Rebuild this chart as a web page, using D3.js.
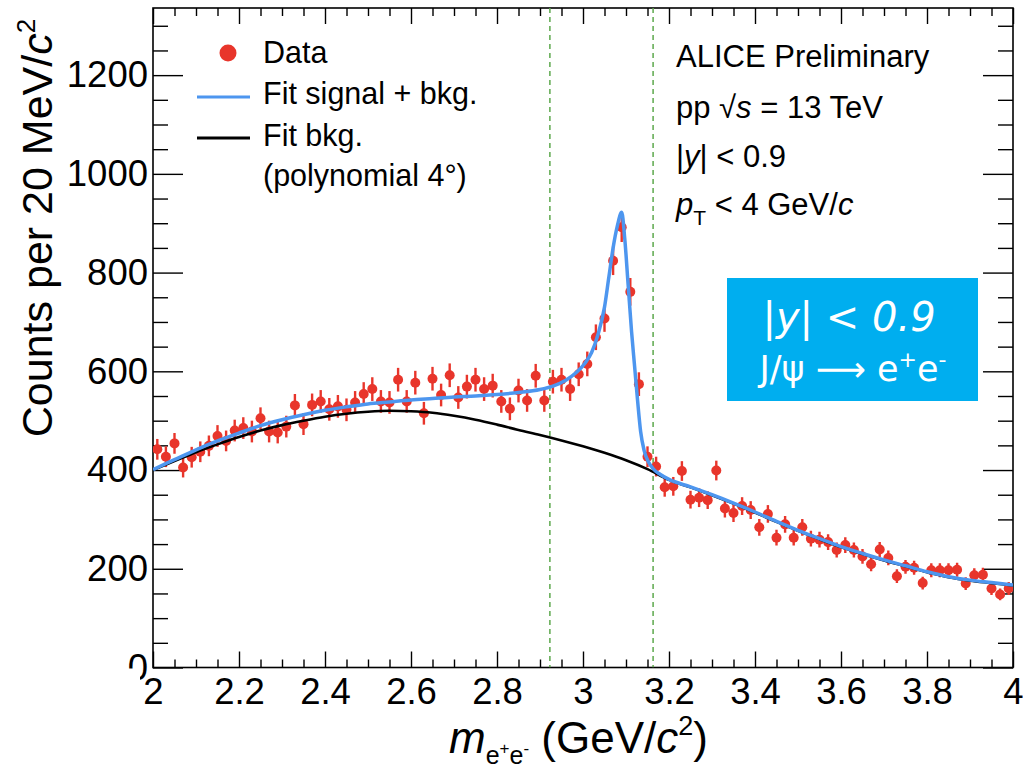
<!DOCTYPE html>
<html>
<head>
<meta charset="utf-8">
<script src="https://cdn.jsdelivr.net/npm/d3@7"></script>
<style>
  body { margin: 0; background: #ffffff; }
  svg { display: block; }
  text { font-family: "Liberation Sans", "DejaVu Sans", Arial, sans-serif; }
</style>
</head>
<body>
<svg id="chart" width="1023" height="768"></svg>
<script>
// Invariant mass bins (20 MeV/c^2 wide), centres in GeV/c^2
const massBins = [
  2.01, 2.03, 2.05, 2.07, 2.09, 2.11, 2.13, 2.15, 2.17, 2.19,
  2.21, 2.23, 2.25, 2.27, 2.29, 2.31, 2.33, 2.35, 2.37, 2.39,
  2.41, 2.43, 2.45, 2.47, 2.49, 2.51, 2.53, 2.55, 2.57, 2.59,
  2.61, 2.63, 2.65, 2.67, 2.69, 2.71, 2.73, 2.75, 2.77, 2.79,
  2.81, 2.83, 2.85, 2.87, 2.89, 2.91, 2.93, 2.95, 2.97, 2.99,
  3.01, 3.03, 3.05, 3.07, 3.09, 3.11, 3.13, 3.15, 3.17, 3.19,
  3.21, 3.23, 3.25, 3.27, 3.29, 3.31, 3.33, 3.35, 3.37, 3.39,
  3.41, 3.43, 3.45, 3.47, 3.49, 3.51, 3.53, 3.55, 3.57, 3.59,
  3.61, 3.63, 3.65, 3.67, 3.69, 3.71, 3.73, 3.75, 3.77, 3.79,
  3.81, 3.83, 3.85, 3.87, 3.89, 3.91, 3.93, 3.95, 3.97, 3.99
];

// Counts per bin
const counts = [
  442, 427, 454, 405, 426, 437, 449, 469, 459, 480,
  485, 478, 505, 478, 476, 488, 531, 493, 532, 539,
  523, 529, 522, 537, 554, 564, 539, 537, 583, 539,
  577, 515, 585, 552, 592, 547, 569, 583, 564, 571,
  539, 524, 561, 541, 591, 541, 579, 583, 564, 594,
  615, 669, 707, 824, 892, 761, 574, 427, 407, 365,
  367, 398, 340, 344, 339, 399, 322, 313, 327, 319,
  284, 311, 263, 290, 263, 284, 261, 259, 254, 238,
  248, 238, 225, 209, 239, 222, 185, 204, 202, 171,
  197, 197, 197, 198, 170, 187, 188, 160, 148, 160
];

// Statistical uncertainty per bin
const countErrors = [
  21, 21, 21, 20, 21, 21, 21, 22, 21, 22,
  22, 22, 22, 22, 22, 22, 23, 22, 23, 23,
  23, 23, 23, 23, 24, 24, 23, 23, 24, 23,
  24, 23, 24, 23, 24, 23, 24, 24, 24, 24,
  23, 23, 24, 23, 24, 23, 24, 24, 24, 24,
  25, 26, 27, 29, 30, 28, 24, 21, 20, 19,
  19, 20, 18, 19, 18, 20, 18, 18, 18, 18,
  17, 18, 16, 17, 16, 17, 16, 16, 16, 15,
  16, 15, 15, 14, 15, 15, 14, 14, 14, 13,
  14, 14, 14, 14, 13, 14, 14, 13, 12, 13
];

// Fit: signal + background, sampled along the mass axis
const fitTotalMass = [
  2.00, 2.05, 2.10, 2.15, 2.20, 2.25, 2.30, 2.35, 2.40, 2.45,
  2.50, 2.55, 2.60, 2.65, 2.70, 2.75, 2.80, 2.85, 2.90, 2.93,
  2.96, 2.985, 3.005, 3.02, 3.035, 3.05, 3.06, 3.07, 3.08, 3.09,
  3.097, 3.105, 3.113, 3.12, 3.127, 3.134, 3.142, 3.152, 3.165, 3.18,
  3.20, 3.25, 3.30, 3.35, 3.40, 3.45, 3.50, 3.55, 3.60, 3.65,
  3.70, 3.75, 3.80, 3.85, 3.90, 3.95, 4.00
];
const fitTotalCounts = [
  401, 421, 441, 459, 475, 490, 502, 512, 521, 528,
  534, 538, 542, 545, 548, 550, 553, 557, 563, 570,
  582, 598, 617, 638, 675, 730, 790, 850, 895, 922,
  870, 775, 680, 610, 540, 478, 440, 417, 401, 391,
  381, 366, 350, 333, 315, 296, 278, 261, 245, 231,
  218, 206, 194, 184, 177, 172, 167
];

// Fit: background only (4th-order polynomial)
const fitBkgMass = [
  2.00, 2.05, 2.10, 2.15, 2.20, 2.25, 2.30, 2.35, 2.40, 2.45,
  2.50, 2.55, 2.60, 2.65, 2.70, 2.75, 2.80, 2.85, 2.90, 2.95,
  3.00, 3.05, 3.10, 3.15, 3.20, 3.25, 3.30, 3.35, 3.40, 3.45,
  3.50, 3.55, 3.60, 3.65, 3.70, 3.75, 3.80, 3.85, 3.90, 3.95, 4.00
];
const fitBkgCounts = [
  400, 418, 436, 452, 467, 480, 491, 500, 508, 514,
  518, 520, 519, 516, 510, 502, 492, 481, 471, 460,
  448, 435, 420, 402, 380, 365, 349, 332, 314, 295,
  277, 260, 244, 230, 217, 205, 193, 183, 176, 171, 166
];

// Signal integration window
const windowEdges = [2.923, 3.163];

// Axis ticks
const xMajorTicks = [2.0, 2.2, 2.4, 2.6, 2.8, 3.0, 3.2, 3.4, 3.6, 3.8, 4.0];
const xTickLabels = ["2", "2.2", "2.4", "2.6", "2.8", "3", "3.2", "3.4", "3.6", "3.8", "4"];
const yMajorTicks = [0, 200, 400, 600, 800, 1000, 1200];
const yTickLabels = ["0", "200", "400", "600", "800", "1000", "1200"];

// ---------------------------------------------------------------
const W = 1023, H = 768;
const frame = { left: 153, right: 1013, top: 8, bottom: 667.5 };
const RED = "#e8352b", BLUE = "#4d96ef", GREEN = "#5ca84c", BOX = "#00aeef";
const TICK_FONT = 36.5;

const svg = d3.select("#chart");
svg.append("rect").attr("width", W).attr("height", H).attr("fill", "#fff");

const x = d3.scaleLinear().domain([2, 4]).range([frame.left, frame.right]);
const y = d3.scaleLinear().domain([0, 1336]).range([frame.bottom, frame.top]);

const xMinor = d3.range(2, 4.0001, 0.05).filter(v => Math.abs(v * 5 - Math.round(v * 5)) > 1e-6);
const yMinor = d3.range(0, 1336, 50).filter(v => v % 200 !== 0);

function styleAxis(g) {
  g.select(".domain").remove();
  g.selectAll(".tick line").attr("stroke", "#000").attr("stroke-width", 1.4);
  g.selectAll(".tick text")
    .attr("fill", "#000")
    .style("font-family", "\"Liberation Sans\", Arial, sans-serif")
    .style("font-size", TICK_FONT + "px");
}

// Bottom axis
svg.append("g").attr("transform", `translate(0,${frame.bottom})`)
  .call(d3.axisBottom(x).tickValues(xMajorTicks).tickSize(-16).tickPadding(11)
    .tickFormat((d, i) => xTickLabels[i]))
  .call(styleAxis);
svg.append("g").attr("transform", `translate(0,${frame.bottom})`)
  .call(d3.axisBottom(x).tickValues(xMinor).tickSize(-8).tickFormat(""))
  .call(styleAxis);
// Top axis
svg.append("g").attr("transform", `translate(0,${frame.top})`)
  .call(d3.axisTop(x).tickValues(xMajorTicks).tickSize(-16).tickFormat(""))
  .call(styleAxis);
svg.append("g").attr("transform", `translate(0,${frame.top})`)
  .call(d3.axisTop(x).tickValues(xMinor).tickSize(-8).tickFormat(""))
  .call(styleAxis);
// Left axis
svg.append("g").attr("transform", `translate(${frame.left},0)`)
  .call(d3.axisLeft(y).tickValues(yMajorTicks).tickSize(-30).tickPadding(5)
    .tickFormat((d, i) => yTickLabels[i]))
  .call(styleAxis);
svg.append("g").attr("transform", `translate(${frame.left},0)`)
  .call(d3.axisLeft(y).tickValues(yMinor).tickSize(-15).tickFormat(""))
  .call(styleAxis);
// Right axis
svg.append("g").attr("transform", `translate(${frame.right},0)`)
  .call(d3.axisRight(y).tickValues(yMajorTicks).tickSize(-30).tickFormat(""))
  .call(styleAxis);
svg.append("g").attr("transform", `translate(${frame.right},0)`)
  .call(d3.axisRight(y).tickValues(yMinor).tickSize(-15).tickFormat(""))
  .call(styleAxis);

// the zero label sits partly under the lower margin
svg.append("rect").attr("x", 0).attr("y", frame.bottom + 1).attr("width", 140).attr("height", 14).attr("fill", "#fff");

// Frame
svg.append("rect")
  .attr("x", frame.left).attr("y", frame.top)
  .attr("width", frame.right - frame.left).attr("height", frame.bottom - frame.top)
  .attr("fill", "none").attr("stroke", "#000").attr("stroke-width", 1.6);

// Clip for the plotted content
svg.append("clipPath").attr("id", "plot-clip").append("rect")
  .attr("x", frame.left).attr("y", frame.top)
  .attr("width", frame.right - frame.left).attr("height", frame.bottom - frame.top);
const plot = svg.append("g").attr("clip-path", "url(#plot-clip)");

// Signal window edges
plot.selectAll("line.window").data(windowEdges).join("line")
  .attr("class", "window")
  .attr("x1", d => x(d)).attr("x2", d => x(d))
  .attr("y1", frame.top).attr("y2", frame.bottom)
  .attr("stroke", GREEN).attr("stroke-width", 1.5).attr("stroke-dasharray", "5,4");

// Data points with error bars
const pts = massBins.map((m, i) => ({ m, v: counts[i], e: countErrors[i] }));
plot.selectAll("line.err").data(pts).join("line")
  .attr("class", "err")
  .attr("x1", d => x(d.m)).attr("x2", d => x(d.m))
  .attr("y1", d => y(d.v - d.e)).attr("y2", d => y(d.v + d.e))
  .attr("stroke", RED).attr("stroke-width", 2.4);
plot.selectAll("circle.pt").data(pts).join("circle")
  .attr("class", "pt")
  .attr("cx", d => x(d.m)).attr("cy", d => y(d.v)).attr("r", 5)
  .attr("fill", RED);

// Fit curves
const line = d3.line().x(d => x(d[0])).y(d => y(d[1])).curve(d3.curveMonotoneX);
plot.append("path")
  .datum(fitBkgMass.map((m, i) => [m, fitBkgCounts[i]]))
  .attr("d", line).attr("fill", "none").attr("stroke", "#000").attr("stroke-width", 2.6);
plot.append("path")
  .datum(fitTotalMass.map((m, i) => [m, fitTotalCounts[i]]))
  .attr("d", line).attr("fill", "none").attr("stroke", BLUE).attr("stroke-width", 3.5)
  .attr("stroke-linejoin", "round");

// Legend
const leg = svg.append("g").style("font-size", "30.5px");
leg.append("circle").attr("cx", 228).attr("cy", 53).attr("r", 8.5).attr("fill", RED);
leg.append("text").attr("x", 263).attr("y", 63).text("Data");
leg.append("line").attr("x1", 197).attr("x2", 250).attr("y1", 97).attr("y2", 97)
  .attr("stroke", BLUE).attr("stroke-width", 3);
leg.append("text").attr("x", 263).attr("y", 104).text("Fit signal + bkg.");
leg.append("line").attr("x1", 197).attr("x2", 250).attr("y1", 138).attr("y2", 138)
  .attr("stroke", "#000").attr("stroke-width", 3);
leg.append("text").attr("x", 263).attr("y", 146).text("Fit bkg.");
leg.append("text").attr("x", 263).attr("y", 186).text("(polynomial 4°)");

// Collision info
const info = svg.append("g").style("font-size", "31px");
info.append("text").attr("x", 676).attr("y", 67).text("ALICE Preliminary");
const t2 = info.append("text").attr("x", 676).attr("y", 118);
t2.append("tspan").text("pp \u221A");
t2.append("tspan").attr("font-style", "italic").text("s");
t2.append("tspan").text(" = 13 TeV");
const t3 = info.append("text").attr("x", 676).attr("y", 167);
t3.append("tspan").text("|");
t3.append("tspan").attr("font-style", "italic").text("y");
t3.append("tspan").text("| < 0.9");
const t4 = info.append("text").attr("x", 676).attr("y", 215);
t4.append("tspan").attr("font-style", "italic").text("p");
t4.append("tspan").attr("font-size", "21px").attr("dy", 10).text("T");
t4.append("tspan").attr("dy", -10).text(" < 4 GeV/");
t4.append("tspan").attr("font-style", "italic").text("c");

// Highlight box
svg.append("rect").attr("x", 727).attr("y", 278).attr("width", 251).attr("height", 123).attr("fill", BOX);
const b1 = svg.append("text").attr("x", 849).attr("y", 331).attr("text-anchor", "middle")
  .attr("fill", "#fff").style("font-family", "\"DejaVu Sans\", sans-serif").style("font-size", "40px");
b1.append("tspan").text("|");
b1.append("tspan").attr("font-style", "italic").text("y");
b1.append("tspan").text("| < ");
b1.append("tspan").attr("font-style", "italic").text("0.9");
const b2 = svg.append("text").attr("x", 853).attr("y", 381).attr("text-anchor", "middle")
  .attr("fill", "#fff").style("font-family", "\"DejaVu Sans\", sans-serif").style("font-size", "35px");
b2.append("tspan").text("J/\u03C8 \u27F6 e");
b2.append("tspan").attr("font-size", "22px").attr("dy", -14).text("+");
b2.append("tspan").attr("dy", 14).text("e");
b2.append("tspan").attr("font-size", "22px").attr("dy", -14).text("-");

// Axis titles
const yt = svg.append("text")
  .attr("transform", "rotate(-90)")
  .attr("x", -228).attr("y", 52)
  .attr("text-anchor", "middle").style("font-size", "43px");
yt.append("tspan").text("Counts per 20 MeV/");
yt.append("tspan").attr("font-style", "italic").text("c");
yt.append("tspan").attr("font-size", "26px").attr("dy", -17).text("2");

const xt = svg.append("text").attr("x", 449).attr("y", 753).style("font-size", "44px");
xt.append("tspan").attr("font-style", "italic").text("m");
xt.append("tspan").attr("font-size", "25px").attr("dy", 11).text("e");
xt.append("tspan").attr("font-size", "17px").attr("dy", -10).text("+");
xt.append("tspan").attr("font-size", "25px").attr("dy", 10).text("e");
xt.append("tspan").attr("font-size", "17px").attr("dy", -10).text("-");
xt.append("tspan").attr("dy", -1).text(" (GeV/");
xt.append("tspan").attr("font-style", "italic").text("c");
xt.append("tspan").attr("font-size", "27px").attr("dy", -18).text("2");
xt.append("tspan").attr("dy", 18).text(")");
</script>
</body>
</html>
